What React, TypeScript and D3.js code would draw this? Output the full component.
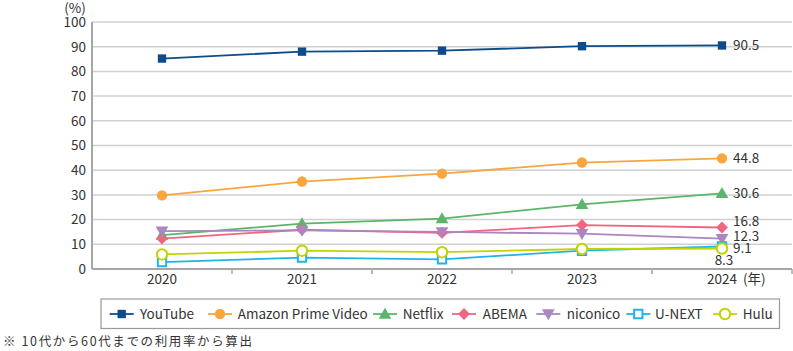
import React from "react";
import * as d3 from "d3";

const years = ["2020", "2021", "2022", "2023", "2024"];
const yTicks = [0, 10, 20, 30, 40, 50, 60, 70, 80, 90, 100];

const youtube = [85.2, 88.0, 88.4, 90.2, 90.5];
const amazon = [29.8, 35.4, 38.6, 43.1, 44.8];
const netflix = [13.7, 18.4, 20.4, 26.2, 30.6];
const abema = [12.3, 15.9, 14.6, 17.8, 16.8];
const niconico = [15.3, 15.6, 15.0, 14.3, 12.3];
const unext = [2.8, 4.6, 3.9, 7.4, 9.1];
const hulu = [5.9, 7.4, 6.8, 8.1, 8.3];

const series = [
  { name: "YouTube", values: youtube, color: "#0d4b8c", shape: "square", hollow: false, label: "90.5", dy: 0 },
  { name: "Amazon Prime Video", values: amazon, color: "#f9a63e", shape: "circle", hollow: false, label: "44.8", dy: 0 },
  { name: "Netflix", values: netflix, color: "#5cb56b", shape: "triangle", hollow: false, label: "30.6", dy: 0 },
  { name: "ABEMA", values: abema, color: "#ef6680", shape: "diamond", hollow: false, label: "16.8", dy: -6.5 },
  { name: "niconico", values: niconico, color: "#ab86c2", shape: "down", hollow: false, label: "12.3", dy: -2.5 },
  { name: "U-NEXT", values: unext, color: "#1fb3ea", shape: "square", hollow: true, label: "9.1", dy: 2 },
  { name: "Hulu", values: hulu, color: "#c2d400", shape: "circle", hollow: true, label: "8.3", dy: 0 },
];

// legend marker centres and text starts
const legendMarkX = [121.7, 220, 385, 464, 548.3, 638.3, 725];
const legendTextX = [140, 237.7, 402.7, 482.7, 566.7, 655, 742.7];

const font = "'Noto Sans CJK JP', 'Noto Sans', sans-serif";

function markerPath(shape: string) {
  // d3 symbols, sizes are areas
  if (shape === "square" || shape === "diamond") return d3.symbol(d3.symbolSquare, 70)()!;
  if (shape === "circle") return d3.symbol(d3.symbolCircle, 85)()!;
  return d3.symbol(d3.symbolTriangle, 70)()!;
}

function Marker({ s, x, y }: { s: any; x: number; y: number }) {
  const hollow = s.hollow;
  const rot = s.shape === "down" ? " rotate(180)" : s.shape === "diamond" ? " rotate(45)" : "";
  const dyShift = s.shape === "triangle" ? 1 : s.shape === "down" ? -1 : 0;
  return (
    <path
      d={markerPath(s.shape)}
      transform={`translate(${x},${y + dyShift})${rot}`}
      fill={hollow ? "#fff" : s.color}
      stroke={s.color}
      strokeWidth={hollow ? 2 : 0}
    />
  );
}

export default function App() {
  const width = 793;
  const height = 351;
  const left = 92;
  const right = 792;
  const top = 22;
  const bottom = 269;

  const x = d3.scaleBand().domain(years).range([left, right]);
  const y = d3.scaleLinear().domain([0, 100]).range([bottom, top]);
  const cx = (d: string) => (x(d) ?? 0) + x.bandwidth() / 2;

  const line = d3
    .line<number>()
    .x((_, i) => cx(years[i]))
    .y((v) => y(v));

  const lastX = cx(years[years.length - 1]);
  const fs = 13.5;

  return (
    <svg width={width} height={height} style={{ position: "absolute", left: 0, top: 0 }} fontFamily={font}>
      <rect width={width} height={height} fill="#fff" />
      {/* gridlines */}
      {yTicks.map((t) =>
        t === 0 ? null : (
          <line key={t} x1={left} x2={right} y1={y(t)} y2={y(t)} stroke="#d0d0d0" strokeWidth={1.5} />
        )
      )}
      {/* axes */}
      <line x1={left} x2={left} y1={top} y2={bottom} stroke="#a6a6a6" strokeWidth={2} />
      <line x1={left} x2={right} y1={bottom} y2={bottom} stroke="#a6a6a6" strokeWidth={2} />
      {years.map((yr) => (
        <line
          key={yr}
          x1={(x(yr) ?? 0) + x.bandwidth()}
          x2={(x(yr) ?? 0) + x.bandwidth()}
          y1={bottom}
          y2={bottom + 5}
          stroke="#a6a6a6"
          strokeWidth={1.5}
        />
      ))}
      {/* y labels */}
      {yTicks.map((t) => (
        <text key={t} x={86} y={y(t)} dy="0.36em" textAnchor="end" fontSize={fs} fill="#333">
          {t}
        </text>
      ))}
      <text x={75} y={8} dy="0.36em" textAnchor="middle" fontSize={fs} fill="#333">
        (%)
      </text>
      {/* x labels */}
      {years.map((yr) => (
        <text key={yr} x={cx(yr)} y={279} dy="0.36em" textAnchor="middle" fontSize={fs} fill="#333">
          {yr}
        </text>
      ))}
      <text x={743} y={279} dy="0.36em" fontSize={fs} fill="#333">
        (年)
      </text>
      {/* lines */}
      {series.map((s) => (
        <path key={s.name} d={line(s.values)!} fill="none" stroke={s.color} strokeWidth={1.8} />
      ))}
      {series.map((s) => (
        <g key={s.name + "m"}>
          {s.values.map((v, i) => (
            <Marker key={i} s={s} x={cx(years[i])} y={y(v)} />
          ))}
        </g>
      ))}
      {/* end labels */}
      {series.map((s) =>
        s.name === "Hulu" ? (
          <text key={s.name + "l"} x={lastX + 2} y={y(s.values[4]) + 12} dy="0.36em" textAnchor="middle" fontSize={fs} fill="#333">
            {s.label}
          </text>
        ) : (
          <text
            key={s.name + "l"}
            x={lastX + 11}
            y={y(s.values[4]) + s.dy}
            dy="0.36em"
            fontSize={fs}
            fill="#333"
          >
            {s.label}
          </text>
        )
      )}
      {/* legend */}
      <rect x={101} y={299} width={678.5} height={29.5} fill="#fff" stroke="#9a9a9a" strokeWidth={1.2} />
      {series.map((s, i) => (
        <g key={s.name + "lg"}>
          <line
            x1={legendMarkX[i] - 12}
            x2={legendMarkX[i] + 12}
            y1={314}
            y2={314}
            stroke={s.color}
            strokeWidth={1.8}
          />
          <Marker s={s} x={legendMarkX[i]} y={314} />
          <text x={legendTextX[i]} y={314} dy="0.36em" fontSize={fs} fill="#333">
            {s.name}
          </text>
        </g>
      ))}
      <text x={3} y={341} dy="0.36em" fontSize={12.5} fill="#333" textLength={249} lengthAdjust="spacing">
        ※ 10代から60代までの利用率から算出
      </text>
    </svg>
  );
}
